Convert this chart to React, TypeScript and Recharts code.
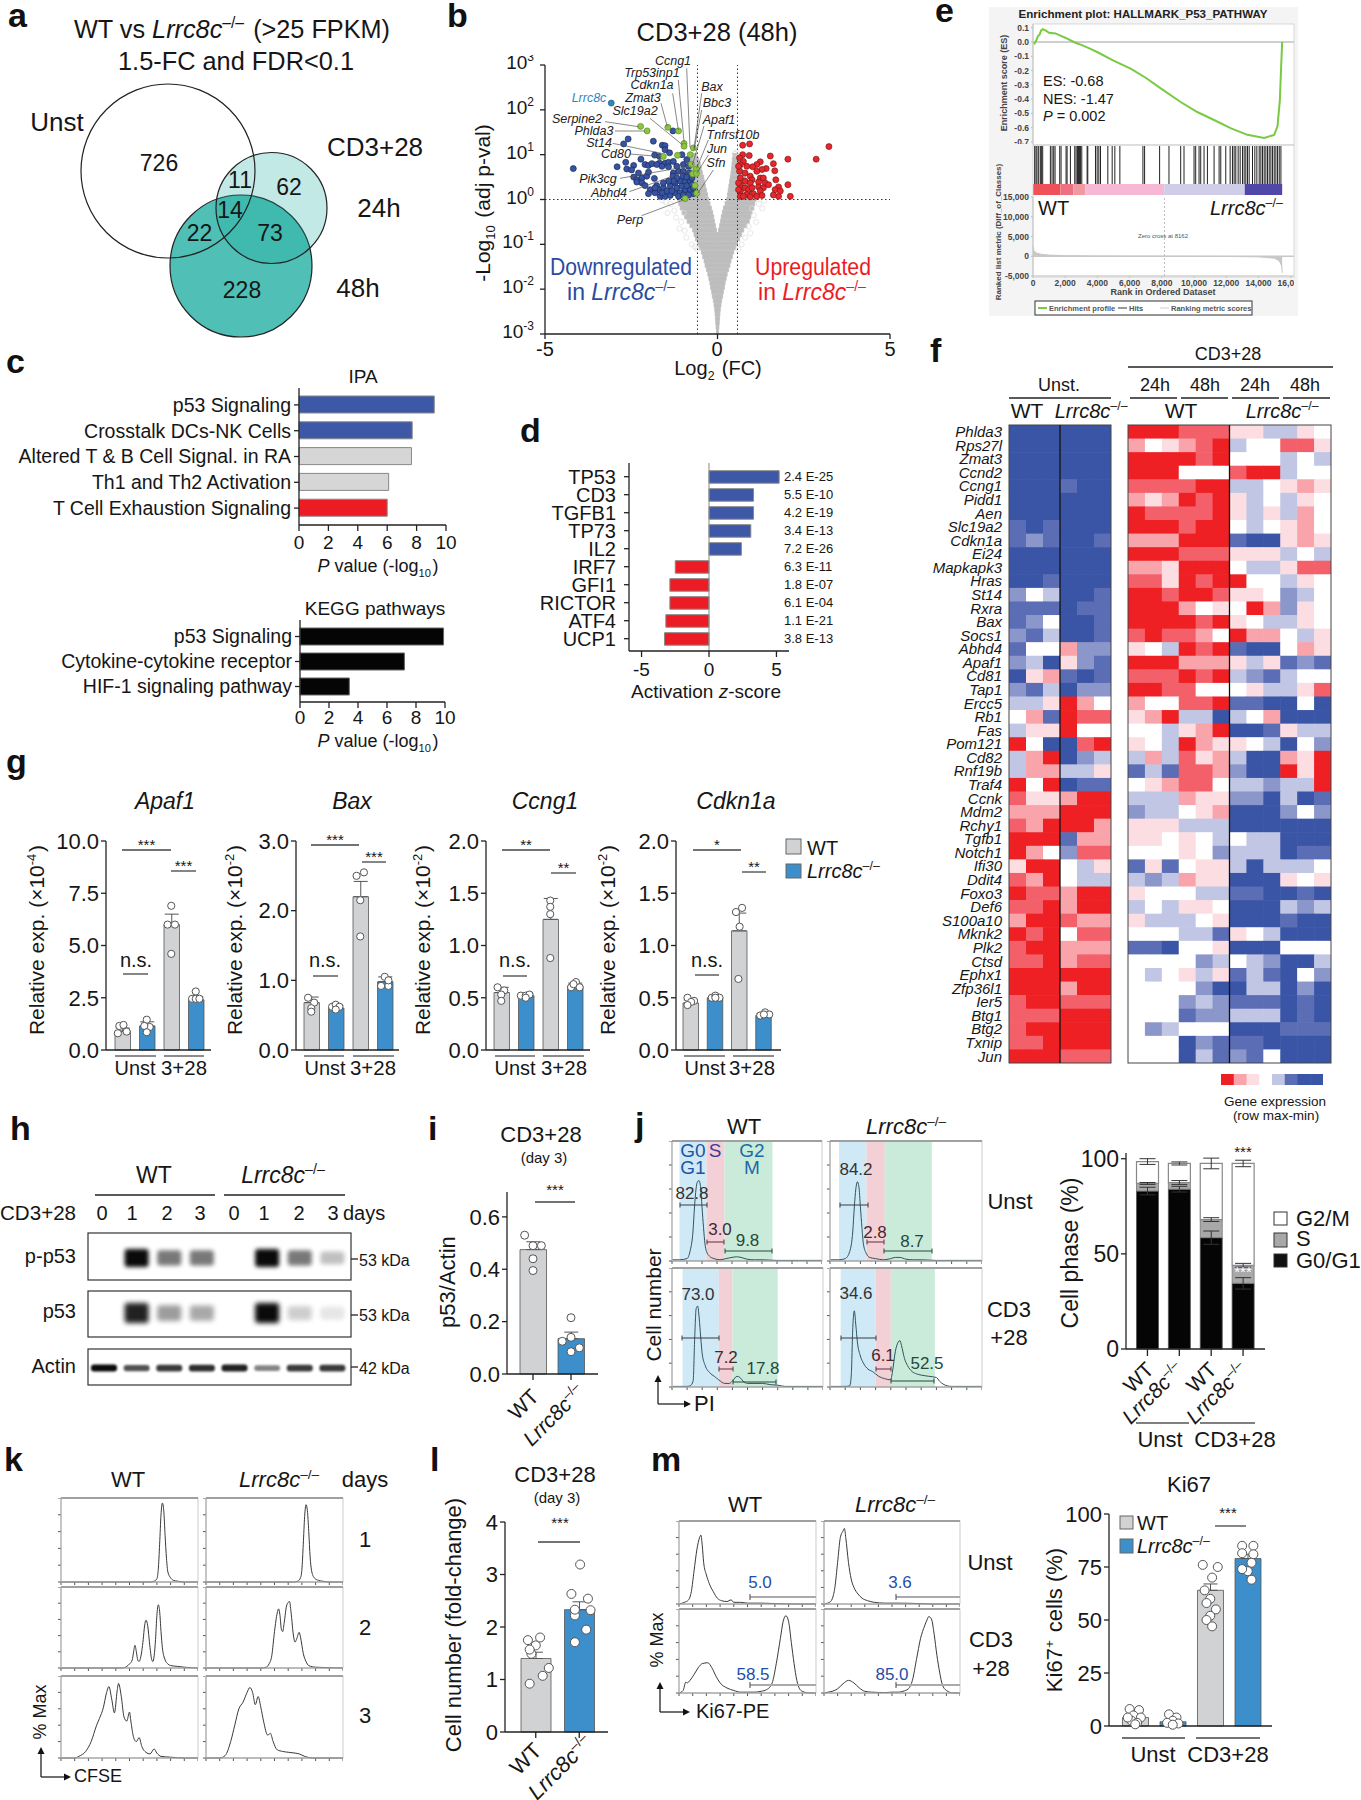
import React from 'react';
import {
  Area, AreaChart, Bar, BarChart, Cell, ComposedChart, ErrorBar, Line, LineChart,
  ReferenceArea, ReferenceLine, Scatter, ScatterChart, XAxis, YAxis
} from 'recharts';

const FONT = '"Liberation Sans", Arial, sans-serif';
const WT_GRAY = '#D1D2D4';
const KO_BLUE = '#3C8FCB';
const INK = '#161616';

// --- a: venn
const vennCx = [168, 241, 271.5];
const vennCy = [171, 266, 208];
const vennR = [87, 71, 55.5];
const vennFill = ['none', '#50BFB5', 'rgba(20,170,160,0.26)'];

// --- b: volcano (log2 FC, log10 adj p)
const volcanoBlue: number[][] = [[-4.18,.69],[-2.91,.73],[-2.66,.83],[-2.63,.68],[-2.43,.76],[-2.49,.66],[-2.59,1.35],[-2.72,1.24],[-1.86,1.3],[-1.29,1.53],[-1.6,1.21],[-1.52,1.2],[-1.52,1.11],[-1.39,1.04],[-1.82,.99],[-1.68,.96],[-2.22,.9],[-2.1,.78],[-2,.76],[-1.9,.8],[-1.68,.81],[-1.52,.81],[-1.42,.83],[-1.28,.85],[-1.18,.74],[-1.03,1],[-.89,.89],[-.99,.78],[-.84,.74],[-2.29,.59],[-2.43,.5],[-2.34,.44],[-2.19,.48],[-2.05,.52],[-2,.61],[-1.83,.47],[-1.28,.59],[-1.13,.63],[-.99,.63],[-.81,.59],[-2.34,.39],[-2.19,.37],[-2.1,.31],[-1.76,.31],[-1.71,.22],[-1.57,.26],[-1.37,.3],[-1.23,.37],[-1.08,.41],[-.94,.41],[-.79,.41],[-1.95,.22],[-2,.13],[-1.81,.15],[-1.66,.07],[-1.52,.07],[-1.37,.09],[-1.23,.15],[-1.08,.15],[-.94,.22],[-.79,.22],[-.7,.13],[-1.18,.26],[-1.03,.3],[-.89,.31],[-.74,.33],[-1.47,.19],[-1.32,.19],[-1.81,.26],[-1.61,.15],[-1.13,.07],[-.99,.1],[-.84,.1],[-.7,.26],[-1.76,.78],[-1.61,.74],[-1.42,.73],[-1.29,.52],[-1.18,.48],[-1,.52],[-.89,.5],[-.74,.48],[-1.28,.41],[-1.42,.41],[-1.57,.37]];
const volcanoRed: number[][] = [[3.23,1.18],[2.86,.9],[2.04,.9],[2.04,.33],[2.11,.07],[1.53,.97],[1.62,.8],[1.66,.64],[1.41,.69],[1.69,.44],[1.77,.28],[1.67,.22],[1.82,.19],[1.77,.07],[1.62,.1],[.73,1.21],[.93,1.24],[.73,1],[.92,.98],[.64,.93],[.75,.85],[1.24,.84],[1.14,.78],[1.02,.73],[.85,.74],[.66,.78],[1.29,.67],[1.14,.63],[.64,.63],[.8,.59],[.95,.52],[1.24,.48],[1.33,.48],[1,.44],[.66,.48],[.8,.41],[.95,.37],[1.19,.39],[1.38,.37],[1.48,.33],[.66,.33],[.8,.26],[1.19,.28],[1.33,.26],[.9,.22],[.66,.19],[1.24,.19],[.85,.11],[1.04,.13],[1.14,.07],[.66,.07],[1.29,.09],[.95,.06],[.75,.07],[1,.26],[.61,.74],[.61,.37],[.61,.22]];
const volcanoGreen: number[][] = [[-2.23,1.63],[-2.04,1.53],[-1.44,1.61],[-1.13,1.53],[-.97,1.25],[-.97,1.19],[-.7,1.15],[-1.57,.96],[-1.16,.985],[-.79,1],[-.76,.785],[-.61,.68],[-.72,.57],[-.61,.58],[-.65,.31],[-.6,.14],[-.94,.02]];
const volcanoLrrc8c: number[][] = [[-3.08,2.15]];
const volcanoOpen: number[][] = [[-1.5,-.05],[-1.35,-.1],[-1.45,-.3],[-1.25,-.25],[-1.2,-.4],[-1.05,-.5],[-1.1,-.65],[-.95,-.7],[-.9,-.85],[-.75,-1],[-.65,-1.05],[-.6,-1.1],[1.2,-.1],[1.3,-.2],[1.05,-.35],[1.12,-.5],[.9,-.6],[.95,-.75],[.8,-.85],[.7,-1],[.6,-1.1],[1.35,-.03],[-1.6,-.02],[1,-.2],[-.98,-.3],[1.1,.1],[1,.3],[.55,1.05],[.5,1.02]];
const grayBins = [1,.9,.8,.7,.6,.5,.4,.3,.2,.1,0,-.1,-.2,-.3,-.4,-.5,-.6,-.7,-.8,-.9,-1,-1.1,-1.2,-1.3,-1.4,-1.5,-1.6,-1.7,-1.8,-1.9,-2,-2.1,-2.2,-2.3,-2.4,-2.5,-2.6,-2.7,-2.8,-2.9,-3];
const grayLeftOuter = [-.7,-.8,-.85,-.9,-.95,-1,-1,-1.02,-1.05,-1.1,-1.15,-1.12,-1.08,-1.02,-.95,-.88,-.8,-.72,-.68,-.64,-.58,-.53,-.47,-.43,-.39,-.36,-.32,-.28,-.25,-.22,-.2,-.17,-.15,-.12,-.1,-.08,-.07,-.06,-.05,-.04,-.03];
const grayLeftInner = [-.6,-.55,-.5,-.47,-.44,-.4,-.38,-.35,-.32,-.29,-.26,-.22,-.18,-.14,-.11,-.09,-.06,-.03,0,0,0,0,0,0,0,0,0,0,0,0,0,0,0,0,0,0,0,0,0,0,0];
const grayRightInner = [.45,.43,.42,.41,.39,.37,.35,.33,.31,.29,.27,.22,.17,.14,.11,.09,.06,.03,0,0,0,0,0,0,0,0,0,0,0,0,0,0,0,0,0,0,0,0,0,0,0];
const grayRightOuter = [.55,.62,.68,.72,.77,.82,.86,.9,.98,1.05,1.12,1.08,1.05,1,.96,.92,.85,.76,.7,.64,.58,.53,.47,.43,.39,.36,.32,.28,.25,.22,.2,.17,.15,.12,.1,.08,.07,.06,.05,.04,.03];
const volcanoLeaders = [[470,55,480,292],[445,90,462,275],[428,130,445,240],[393,160,412,230],[360,205,458,285],[225,215,325,230],[255,243,345,243],[248,280,395,310],[300,312,395,320],[270,385,470,350],[298,425,480,360],[335,497,460,450],[515,130,492,295],[515,180,492,300],[522,228,487,345],[535,270,500,355],[535,315,500,370],[550,360,503,430]];

// --- c, d
const ipaNames = ['p53 Signaling', 'Crosstalk DCs-NK Cells', 'Altered T & B Cell Signal. in RA', 'Th1 and Th2 Activation', 'T Cell Exhaustion Signaling'];
const ipaValues = [9.2, 7.7, 7.65, 6.1, 6.0];
const ipaColors = ['#3D58A7', '#3D58A7', '#D6D6D6', '#D6D6D6', '#ED1C24'];
const keggNames = ['p53 Signaling', 'Cytokine-cytokine receptor', 'HIF-1 signaling pathway'];
const keggValues = [9.9, 7.2, 3.4];
const zNames = ['TP53', 'CD3', 'TGFB1', 'TP73', 'IL2', 'IRF7', 'GFI1', 'RICTOR', 'ATF4', 'UCP1'];
const zValues = [5.2, 3.3, 3.3, 3.1, 2.4, -2.5, -2.9, -2.9, -3.2, -3.3];
const zPvals = ['2.4 E-25', '5.5 E-10', '4.2 E-19', '3.4 E-13', '7.2 E-26', '6.3 E-11', '1.8 E-07', '6.1 E-04', '1.1 E-21', '3.8 E-13'];

// --- e: GSEA
const esRank = [0,100,200,300,400,500,600,800,1000,1400,1700,2000,2630,3000,3500,3980,5000,6060,7000,8000,9170,10200,11245,12300,13320,14356,14980,15185,15330,15413,15475];
const esScore = [0,-.01,.01,.04,.05,.08,.09,.08,.065,.06,.045,.03,-.005,-.02,-.045,-.07,-.13,-.186,-.25,-.33,-.42,-.49,-.546,-.605,-.65,-.672,-.65,-.59,-.41,-.17,0];
const hitRanks = [104,187,249,353,456,519,602,1079,1183,1286,1370,1660,1743,2054,2117,2324,2594,2677,2760,2822,2884,2947,3030,3362,3403,3880,3984,4088,4192,4648,4918,5084,5395,6827,6931,7864,8445,9172,9379,10002,10105,10313,10417,10624,10832,11247,11558,11662,11973,12243,12388,12492,12595,12741,12865,13010,13114,13218,13322,13426,13633,13778,13903,14048,14152,14255,14359,14463,14567,14670,14774,14878,14982,15085,15189,15293,15397];
const stripWidths = [1700, 800, 750, 4900, 5000, 2325];
const stripColors = ['#EE5158', '#EF7080', '#EE9AA0', '#F6B8D4', '#CFCDE8', '#5048A8'];
const metricRank = [0,50,200,500,1000,2000,4000,8162,12000,14000,15000,15300,15450,15475];
const metricValue = [2500,1500,800,500,300,150,50,0,-50,-150,-500,-1200,-2500,-4200];

// --- f: heatmap, levels 0 (blue) to 8 (red)
const heatPalette = ['#3A55A5', '#5A6DB5', '#8B96CB', '#C0C6E3', '#FFFFFF', '#FBDDE2', '#F9A4AB', '#F3606A', '#EE2024'];
const heatGenes = ['Phlda3','Rps27l','Zmat3','Ccnd2','Ccng1','Pidd1','Aen','Slc19a2','Cdkn1a','Ei24','Mapkapk3','Hras','St14','Rxra','Bax','Socs1','Abhd4','Apaf1','Cd81','Tap1','Ercc5','Rb1','Fas','Pom121','Cd82','Rnf19b','Traf4','Ccnk','Mdm2','Rchy1','Tgfb1','Notch1','Ifi30','Ddit4','Foxo3','Def6','S100a10','Mknk2','Plk2','Ctsd','Ephx1','Zfp36l1','Ier5','Btg1','Btg2','Txnip','Jun'];
const heatUnst = ['000000','000000','000000','000000','000100','000000','000000','101000','121001','000000','000000','001000','243001','111011','124001','213001','144622','230521','056101','213022','335864','461877','355844','840078','368023','366335','848011','755688','666888','768886','888166','864277','588435','768433','877688','778688','688766','878477','788666','778677','888888','888688','788777','777888','788888','778888','888777'];
const heatStim = ['888777553354','645678344775','888878444343','888444788344','777788334565','656878534354','877778535364','888788434564','666888100565','888777555343','665888433577','775878844354','887887554234','888645486254','888878543354','787764866435','543878100465','888666535121','777878321344','887744453357','644778110040','568330346000','443568001533','543865543042','363756300658','131776200858','456774332338','333655220301','233456000242','555333000000','554543433000','444542333011','151455303334','323655000545','544433110010','343554000323','533345000100','444331543000','110445000444','444423432003','434535131042','444420033020','444232111010','444122333010','423444000111','444021110000','444031214000'];
const heatLegend = [8, 6, 5, 4, 3, 1, 0, 0];

// --- g: qPCR
const qpcrCats = ['WT Unst', 'KO Unst', 'WT stim', 'KO stim'];
const qpcrColors = [WT_GRAY, KO_BLUE, WT_GRAY, KO_BLUE];
const apaf1Means = [.9, 1.15, 6, 2.4];
const apaf1Errs = [.15, .2, .5, .15];
const apaf1Dots = [[.38,1.15],[.55,1.2],[.32,.8],[.68,.88],[1.5,1.45],[1.62,1.1],[1.4,1.15],[1.5,.85],[2.5,6.9],[2.35,6],[2.65,6],[2.5,4.6],[3.5,2.8],[3.35,2.45],[3.5,2.45],[3.65,2.45]];
const baxMeans = [.68, .6, 2.2, .98];
const baxErrs = [.08, .04, .22, .07];
const baxDots = [[.37,.75],[.62,.68],[.5,.6],[.5,.55],[1.35,.62],[1.5,.65],[1.65,.62],[1.5,.58],[2.35,2.5],[2.65,2.55],[2.5,2.15],[2.5,1.63],[3.35,.92],[3.65,.92],[3.5,1.05],[3.65,1]];
const ccng1Means = [.55, .52, 1.25, .61];
const ccng1Errs = [.05, .02, .2, .03];
const ccng1Dots = [[.35,.6],[.62,.57],[.5,.53],[.5,.47],[1.3,.52],[1.5,.52],[1.65,.53],[1.5,.5],[2.5,1.43],[2.5,1.37],[2.5,1.3],[2.5,.88],[3.35,.6],[3.55,.65],[3.7,.6],[3.45,.63]];
const cdkn1aMeans = [.45, .5, 1.14, .33];
const cdkn1aErrs = [.03, .01, .17, .02];
const cdkn1aDots = [[.35,.5],[.62,.47],[.5,.46],[.35,.43],[1.35,.5],[1.5,.52],[1.67,.5],[1.5,.5],[2.35,1.32],[2.6,1.36],[2.5,1.18],[2.45,.68],[3.35,.33],[3.55,.36],[3.72,.34],[3.5,.34]];

// --- h: blot band intensities per lane
const bandsPhospho = [0, 1, .55, .55, 0, 1.2, .55, .25];
const bandsP53 = [0, .9, .4, .35, 0, 1, .2, .1];
const bandsActin = [1, .7, .8, .85, .9, .5, .8, .8];

// --- i
const p53Means = [.475, .135];
const p53Errs = [.03, .025];
const p53Dots = [[.28,.53],[.5,.49],[.72,.49],[.5,.44],[.5,.395],[1.5,.215],[1.5,.14],[1.27,.125],[1.72,.1],[1.5,.085]];

// --- j: cell cycle
const phaseCats = ['WT Unst', 'KO Unst', 'WT stim', 'KO stim'];
const phaseG0 = [83, 84, 58.5, 34.5];
const phaseS = [4, 3.5, 9.5, 9.5];
const phaseG2 = [11.5, 10, 29.5, 53.5];
const phaseG0Err = [2, 1.5, 3.5, 3];
const phaseSErr = [.5, 1, 1, 1];
const phaseG2Err = [1.5, .8, 2.8, 1.7];
const cycleWtUnst = [[0,1],[5,1],[10,2],[12,8],[14,25],[15,45],[16,60],[17,66],[18,67],[19,62],[20,45],[21,28],[22,14],[23,8],[25,4],[28,2],[32,1],[36,2],[40,3],[43,3.5],[46,3],[50,1.5],[55,1],[60,1],[70,.5],[85,.5],[100,.5]];
const cycleKoUnst = [[0,1],[6,1],[10,2],[13,8],[15,25],[16,45],[17,60],[18,66],[19,62],[20,45],[21,28],[22,14],[24,6],[26,3],[30,2],[35,1],[40,2],[43,3],[46,3],[50,1.5],[55,1],[60,1],[70,.5],[85,.5],[100,.5]];
const cycleWtStim = [[0,.5],[10,.5],[12,1],[14,5],[15,40],[16,66],[17,68],[18,58],[19,42],[20,28],[22,18],[25,12],[28,9],[31,6],[35,3],[38,3],[40,5],[43,9],[45,8],[47,5],[50,3],[55,3],[60,3],[65,2],[70,1.5],[75,.5],[80,.5],[100,.5]];
const cycleKoStim = [[0,.5],[10,.5],[13,1],[14,10],[15,50],[16,64],[17,52],[18,38],[20,26],[22,20],[25,15],[28,13],[32,9],[36,7],[40,6],[41,12],[43,30],[45,38],[46,39],[47,35],[49,24],[51,18],[54,13],[57,11],[60,10],[65,9],[70,8],[72,5],[75,2],[80,.5],[100,.5]];
const gatesWtUnst = [[5,23],[23,35],[35,67]];
const gatesKoUnst = [[6,24],[24,36],[36,67]];
const gatesWtStim = [[7,31],[31,40],[40,70]];
const gatesKoStim = [[7,30],[30,40],[40,69]];
const gateColors = ['#CFE9F6', '#F3D0D6', '#CBEBDA'];
const histTicks = [0, 10, 20, 30, 40, 50, 60, 70, 80, 90, 100];

// --- k: CFSE
const cfseWt1 = [[0,0],[65,0],[68,1],[70,4],[71,15],[72,45],[73,80],[74,94],[75,85],[76,55],[77,28],[78,12],[80,5],[82,2],[85,1],[90,0],[100,0]];
const cfseKo1 = [[0,0],[64,0],[67,1],[69,5],[70,15],[71,45],[72,78],[73,92],[74,85],[75,60],[76,30],[77,14],[79,5],[82,2],[85,1],[90,0],[100,0]];
const cfseWt2 = [[0,0],[45,0],[48,2],[50,5],[52,10],[53,20],[54,28],[55,20],[56,10],[57,8],[58,12],[60,35],[61,52],[62,59],[63,55],[65,25],[66,12],[67,8],[68,15],[69,35],[70,65],[71,78],[72,70],[73,45],[74,25],[76,10],[78,5],[80,3],[85,2],[90,1],[100,0]];
const cfseKo2 = [[0,0],[40,0],[44,1],[46,5],[48,15],[50,45],[52,68],[53,73],[54,65],[55,48],[56,45],[57,55],[59,78],[61,82],[62,70],[64,38],[65,32],[66,35],[68,44],[69,38],[71,18],[73,8],[75,3],[80,1],[100,0]];
const cfseWt3 = [[0,0],[10,0],[13,2],[18,8],[22,20],[26,40],[28,48],[31,62],[33,78],[35,87],[37,72],[39,55],[41,82],[42,91],[44,75],[46,50],[48,45],[50,56],[51,45],[53,25],[55,20],[57,25],[59,14],[62,7],[65,5],[68,11],[70,6],[73,2],[80,1],[90,0],[100,0]];
const cfseKo3 = [[0,0],[10,0],[14,3],[18,20],[21,40],[24,60],[27,68],[30,80],[32,86],[34,80],[36,65],[38,75],[40,62],[42,45],[45,28],[47,30],[49,20],[52,10],[56,8],[60,7],[65,6],[68,5],[72,2],[78,0],[100,0]];

// --- l
const foldMeans = [1.4, 2.33];
const foldErrs = [.12, .15];
const foldDots = [[.36,.92],[.66,1.07],[.8,1.22],[.4,1.49],[.5,1.65],[.32,1.75],[.6,1.8],[.36,1.57],[1.4,1.71],[1.66,1.95],[1.4,2.22],[1.76,2.32],[1.32,2.63],[1.7,2.54],[1.52,3.19],[1.4,2.33]];

// --- m
const ki67WtUnst = [[0,0],[4,2],[7,5],[9,15],[11,40],[13,65],[15,80],[16,83],[17,70],[18,50],[20,35],[22,25],[25,15],[28,7],[31,4],[35,3],[38,5],[40,2],[45,2],[50,1],[60,1],[70,.5],[85,0],[100,0]];
const ki67KoUnst = [[0,0],[4,2],[6,6],[8,20],[10,50],[12,80],[14,88],[15,91],[16,80],[18,50],[20,30],[22,20],[25,12],[28,7],[32,4],[37,2],[45,1],[55,1],[70,.5],[80,0],[100,0]];
const ki67WtStim = [[0,0],[3,3],[5,13],[6,12],[8,15],[11,22],[14,30],[17,35],[21,36],[24,30],[27,20],[30,12],[35,6],[40,3],[45,1],[50,1],[55,1],[60,2],[64,4],[68,12],[71,35],[74,65],[76,85],[78,92],[80,85],[82,60],[84,35],[86,15],[88,5],[90,2],[95,0],[100,0]];
const ki67KoStim = [[0,0],[3,1],[6,2],[10,5],[14,11],[18,15],[22,12],[26,6],[30,2],[35,1],[45,.5],[50,1],[55,1],[58,2],[62,5],[65,15],[68,40],[71,65],[74,80],[76,88],[77,91],[79,88],[81,70],[83,45],[85,25],[87,10],[90,3],[95,0],[100,0]];
const kiMeans = [4, 2, 64, 79];
const kiErrs = [1, .5, 3, 2];
const kiDots = [[.35,8],[.6,7.5],[.45,5],[.65,4],[.4,2.5],[.55,1.5],[.3,4],[.5,.8],[1.4,5.5],[1.6,4],[1.5,2.5],[1.35,1.5],[1.65,1.2],[1.5,.6],[2.3,76],[2.7,75],[2.55,70],[2.35,64],[2.5,60],[2.4,58],[2.65,55],[2.5,52],[2.4,50],[2.55,47],[3.35,85],[3.65,85],[3.35,81.5],[3.65,81],[3.6,77],[3.5,73],[3.6,69],[3.35,74]];

const axisLine = { stroke: '#222', strokeWidth: 1.3 };
const Box = ({ x, y, children }: any) => (
  <div style={{ position: 'absolute', left: x, top: y }}>{children}</div>
);
const blank = () => '';
const toRows = (a: number[][]) => a.map(([x, y]) => ({ x, y }));

const T = ({ x, y, s = 18, a = 'middle', c = INK, i, b, rot, w, children }: any) => (
  <text x={x} y={y} fontSize={s} textAnchor={a} fill={c} fontStyle={i ? 'italic' : undefined}
    fontWeight={b ? 'bold' : undefined} transform={rot ? `rotate(${rot} ${x} ${y})` : undefined}
    textLength={w} lengthAdjust={w ? 'spacingAndGlyphs' : undefined}>{children}</text>
);
const Sup = ({ t, s }: any) => (
  <><tspan dy={-0.38 * s} fontSize={s * 0.62}>{t}</tspan><tspan dy={0.38 * s}>{'\u200a'}</tspan></>
);
const Sub = ({ t, s }: any) => (
  <><tspan dy={0.25 * s} fontSize={s * 0.62}>{t}</tspan><tspan dy={-0.25 * s}>{'\u200a'}</tspan></>
);
const KO = ({ s }: any) => (
  <><tspan fontStyle="italic">Lrrc8c</tspan><Sup t="–/–" s={s} /></>
);
const L = ({ x1, y1, x2, y2, c = '#222', w = 1.3, d }: any) => (
  <line x1={x1} y1={y1} x2={x2} y2={y2} stroke={c} strokeWidth={w} strokeDasharray={d} />
);
const R = ({ x, y, w, h, f = 'none', c = 'none', sw = 1 }: any) => (
  <rect x={x} y={y} width={w} height={h} fill={f} stroke={c} strokeWidth={sw} />
);

const Venn = () => (
  <Box x={0} y={0}>
    <ScatterChart width={340} height={345} margin={{ top: 0, right: 0, left: 0, bottom: 0 }}>
      <XAxis type="number" dataKey="x" domain={[0, 340]} hide />
      <YAxis type="number" dataKey="y" domain={[0, 345]} reversed hide />
      <Scatter isAnimationActive={false}
        data={[1, 2, 0].map((k) => ({ x: vennCx[k], y: vennCy[k], r: vennR[k], f: vennFill[k] }))}
        shape={(p: any) => <circle cx={p.cx} cy={p.cy} r={p.r} fill={p.f} stroke="#222" strokeWidth={1.2} />} />
    </ScatterChart>
  </Box>
);

const VDot = ({ data, f, c = '#1d2a55', r = 3 }: any) => (
  <Scatter isAnimationActive={false} data={toRows(data)}
    shape={(p: any) => <circle cx={p.cx} cy={p.cy} r={r} fill={f} stroke={c} strokeWidth={0.7} />} />
);

const Volcano = () => {
  const rows = grayBins.map((b, k) => ({ b: String(b), l: [grayLeftOuter[k], grayLeftInner[k]], r: [grayRightInner[k], grayRightOuter[k]] }));
  const arm = (key: string) => (
    <Box x={545} y={153}>
      <BarChart layout="vertical" width={345} height={181} data={rows} barCategoryGap={0} margin={{ top: 0, right: 0, left: 0, bottom: 0 }}>
        <XAxis type="number" domain={[-5, 5]} hide />
        <YAxis type="category" dataKey="b" hide />
        <Bar dataKey={key} fill="#BDBDBD" stroke="#BDBDBD" strokeWidth={0.8} isAnimationActive={false} />
      </BarChart>
    </Box>
  );
  return (
    <>
      {arm('l')}
      {arm('r')}
      <Box x={495} y={55}>
        <ScatterChart width={410} height={292} margin={{ top: 10, right: 15, left: 0, bottom: 0 }}>
          <XAxis type="number" dataKey="x" domain={[-5, 5]} ticks={[-5, 0, 5]} interval={0} height={13} axisLine={axisLine} tickLine={axisLine} tickSize={5}
            tickFormatter={blank} />
          <YAxis type="number" dataKey="y" domain={[-3, 3]} ticks={[-3, -2, -1, 0, 1, 2, 3]} interval={0} width={50} axisLine={axisLine} tickLine={axisLine} tickSize={5}
            tick={(p: any) => (
              <text x={p.x - 4} y={p.y + 4} textAnchor="end" fontSize={19} fill={INK}>10<tspan dy={-8} fontSize={12}>{p.payload.value}</tspan></text>
            )} />
          <ReferenceLine x={-0.58} stroke="#333" strokeDasharray="1.5 2.5" />
          <ReferenceLine x={0.58} stroke="#333" strokeDasharray="1.5 2.5" />
          <ReferenceLine y={0} stroke="#333" strokeDasharray="1.5 2.5" />
          {VDot({ data: volcanoOpen, f: 'none', c: '#DDD', r: 2.6 })}
          {VDot({ data: volcanoBlue, f: '#3654A5' })}
          {VDot({ data: volcanoRed, f: '#E8262B', c: '#7a1a1a' })}
          {VDot({ data: volcanoGreen, f: '#8CC63F', c: '#5b8a2a' })}
          {VDot({ data: volcanoLrrc8c, f: '#2E86C1', c: '#1d5f8c' })}
        </ScatterChart>
      </Box>
    </>
  );
};

const HBars = ({ x, y, w, h, names, values, colors, domain, ticks, pad, barSize, left, stroke, fs = 19.5, margin = 3 }: any) => (
  <Box x={x - left} y={y}>
    <BarChart layout="vertical" width={w + left + 14} height={h + 10} data={names.map((n: string, k: number) => ({ n, v: values[k] }))}
      margin={{ top: 0, right: 14, left: 0, bottom: 0 }}>
      <XAxis type="number" domain={domain} ticks={ticks} interval={0} height={10} axisLine={axisLine} tickLine={axisLine} tickSize={6} tickFormatter={blank} />
      <YAxis type="category" dataKey="n" width={left} interval={0} padding={pad} axisLine={axisLine} tickLine={axisLine} tickSize={5}
        tick={{ fill: INK, fontSize: fs }} tickMargin={margin} />
      <Bar dataKey="v" barSize={barSize} stroke={stroke} strokeWidth={1} isAnimationActive={false}>
        {names.map((_: string, k: number) => <Cell key={k} fill={colors[k]} />)}
      </Bar>
      {domain[0] < 0 && <ReferenceLine x={0} stroke="#888" strokeWidth={1} />}
    </BarChart>
  </Box>
);

const Gsea = () => {
  const left = 40;
  const tick = { fontSize: 8.5, fill: '#444', fontWeight: 'bold' };
  const esRows = esRank.map((r, k) => ({ r, v: esScore[k] }));
  const metricRows = metricRank.map((r, k) => ({ r, v: metricValue[k] }));
  const strip: any = { n: 'strip' };
  stripWidths.forEach((v, k) => { strip['s' + k] = v; });
  return (
    <>
      <Box x={1033 - left} y={18}>
        <LineChart width={261 + left} height={126} data={esRows} margin={{ top: 6, right: 0, left: 0, bottom: 0 }}>
          <XAxis type="number" dataKey="r" domain={[0, 16210]} hide />
          <YAxis domain={[-0.714, 0.126]} ticks={[.1, 0, -.1, -.2, -.3, -.4, -.5, -.6, -.7]} interval={0} width={left} tick={tick} tickSize={2} tickMargin={2}
            axisLine={{ stroke: '#bbb' }} tickLine={{ stroke: '#bbb' }} tickFormatter={(v: number) => v.toFixed(1)} />
          <ReferenceLine y={0} stroke="#CFCFCF" strokeWidth={2} />
          <Line dataKey="v" stroke="#7AC943" strokeWidth={2} dot={false} isAnimationActive={false} />
        </LineChart>
      </Box>
      <Box x={1033} y={146}>
        <ScatterChart width={261} height={38} margin={{ top: 0, right: 0, left: 0, bottom: 0 }}>
          <XAxis type="number" dataKey="x" domain={[0, 16210]} hide />
          <YAxis type="number" dataKey="y" domain={[0, 1]} hide />
          <Scatter isAnimationActive={false} data={hitRanks.map((x) => ({ x, y: 0.5 }))}
            shape={(p: any) => <line x1={p.cx} x2={p.cx} y1={0} y2={38} stroke="#222" strokeWidth={1} />} />
        </ScatterChart>
      </Box>
      <Box x={1033} y={184}>
        <BarChart layout="vertical" width={261} height={11} data={[strip]} barCategoryGap={0} margin={{ top: 0, right: 0, left: 0, bottom: 0 }}>
          <XAxis type="number" domain={[0, 16210]} hide />
          <YAxis type="category" dataKey="n" hide />
          {stripWidths.map((_, k) => <Bar key={k} dataKey={'s' + k} stackId="a" fill={stripColors[k]} isAnimationActive={false} />)}
        </BarChart>
      </Box>
      <Box x={1033 - left} y={191}>
        <AreaChart width={261 + left} height={98} data={metricRows} margin={{ top: 6, right: 0, left: 0, bottom: 0 }}>
          <XAxis type="number" dataKey="r" domain={[0, 16210]} ticks={[0, 2000, 4000, 6000, 8000, 10000, 12000, 14000, 16000]} interval={0} height={13}
            tick={tick} tickSize={2} axisLine={{ stroke: '#bbb' }} tickLine={{ stroke: '#bbb' }} tickFormatter={(v: number) => v.toLocaleString('en-US')} />
          <YAxis domain={[-5000, 15000]} ticks={[-5000, 0, 5000, 10000, 15000]} interval={0} width={left} tick={tick} tickSize={2} tickMargin={2}
            axisLine={{ stroke: '#bbb' }} tickLine={{ stroke: '#bbb' }} tickFormatter={(v: number) => v.toLocaleString('en-US')} />
          <ReferenceLine x={8162} stroke="#bbb" strokeDasharray="2 2" />
          <ReferenceLine y={0} stroke="#C8C8C8" strokeWidth={1.5} />
          <Area dataKey="v" baseValue={0} stroke="#C8C8C8" fill="#C8C8C8" fillOpacity={1} dot={false} isAnimationActive={false} />
        </AreaChart>
      </Box>
    </>
  );
};

const Heat = ({ x, y, w, h, rows, cols, labels }: any) => {
  const cw = w / cols;
  const rh = h / rows.length;
  const cells: any[] = [];
  rows.forEach((row: any, r: number) => {
    Array.from(row).forEach((level: any, c: number) => cells.push({ x: c + 0.5, y: r + 0.5, l: Number(level) }));
  });
  const left = labels ? 90 : 0;
  return (
    <Box x={x - left} y={y}>
      <ScatterChart width={w + left} height={h} margin={{ top: 0, right: 0, left: 0, bottom: 0 }}>
        <XAxis type="number" dataKey="x" domain={[0, cols]} hide />
        <YAxis type="number" dataKey="y" domain={[0, rows.length]} reversed width={left} hide={!labels} axisLine={false} tickLine={false} interval={0}
          ticks={rows.map((_: any, k: number) => k + 0.5)} tickFormatter={(v: number) => (labels ? labels[Math.floor(v)] : '')}
          tick={{ fontSize: 15, fontStyle: 'italic', fill: INK }} tickMargin={1} />
        <Scatter isAnimationActive={false} data={cells}
          shape={(p: any) => <rect x={p.cx - cw / 2} y={p.cy - rh / 2} width={cw + 0.6} height={rh + 0.6} fill={heatPalette[p.l]} />} />
      </ScatterChart>
    </Box>
  );
};

const DotBars = ({ x, y, w, h, means, errs, colors, dots, domain, ticks, fmt, padL, padR, barW, dotR = 3.6, showTicks, fs = 22, cats }: any) => {
  const left = 60;
  const top = 14;
  const names = cats || means.map((_: number, k: number) => 'c' + k);
  const data = names.map((cat: string, k: number) => ({ cat, v: means[k], e: [0, errs[k]] }));
  return (
    <Box x={x - left} y={y - top}>
      <ComposedChart width={w + left} height={h + top + 12} data={data} margin={{ top, right: 0, left: 0, bottom: 0 }}>
        <XAxis xAxisId="c" dataKey="cat" height={12} padding={{ left: padL, right: padR }} axisLine={axisLine} tickLine={showTicks ? axisLine : false} tickSize={6} tickFormatter={blank} />
        <XAxis xAxisId="n" type="number" dataKey="x" domain={[0, means.length]} padding={{ left: padL, right: padR }} hide />
        <YAxis domain={domain} ticks={ticks} interval={0} width={left} axisLine={axisLine} tickLine={axisLine} tickSize={5} tickMargin={2}
          tick={{ fontSize: fs, fill: INK }} tickFormatter={fmt} />
        <Bar xAxisId="c" dataKey="v" barSize={barW} stroke="#555" strokeWidth={0.8} isAnimationActive={false}>
          {names.map((_: string, k: number) => <Cell key={k} fill={colors[k]} />)}
          <ErrorBar dataKey="e" direction="y" width={7} stroke="#555" strokeWidth={1} />
        </Bar>
        <Scatter xAxisId="n" dataKey="y" data={toRows(dots)} isAnimationActive={false}
          shape={(p: any) => <circle cx={p.cx} cy={p.cy} r={dotR} fill="#fff" stroke="#555" strokeWidth={1} />} />
      </ComposedChart>
    </Box>
  );
};

const Blot = ({ x, y, w, h, bands, pos, rx, ry, blur }: any) => (
  <Box x={x} y={y}>
    <ScatterChart width={w} height={h} margin={{ top: 0, right: 0, left: 0, bottom: 0 }}>
      <XAxis type="number" dataKey="x" domain={[-0.49, 7.57]} hide />
      <YAxis type="number" dataKey="y" domain={[0, 1]} hide />
      <Scatter isAnimationActive={false} data={bands.map((v: number, k: number) => ({ x: k, y: pos, v }))}
        shape={(p: any) => {
          if (p.v <= 0) return <g />;
          const bh = ry * Math.min(1, 0.6 + p.v * 0.45);
          return (
            <rect x={p.cx - rx} y={p.cy - bh} width={rx * 2} height={bh * 2} rx={3} fill="#0a0a0a"
              opacity={Math.min(1, p.v)} style={{ filter: `blur(${blur}px)` }} />
          );
        }} />
    </ScatterChart>
  </Box>
);

const Hist = ({ x, y, w, h, curve, gates, c = '#3a3a3a' }: any) => (
  <Box x={x - 4} y={y}>
    <LineChart width={w + 4} height={h + 5} data={curve.map(([a, b]: number[]) => ({ a, b }))} margin={{ top: 0, right: 0, left: 0, bottom: 0 }}>
      <XAxis type="number" dataKey="a" domain={[0, 100]} ticks={histTicks} interval={0} tickFormatter={blank} height={5} tickSize={3} axisLine={{ stroke: '#777' }} tickLine={{ stroke: '#555' }} />
      <YAxis domain={[0, 100]} ticks={[0, 20, 40, 60, 80, 100]} interval={0} width={4} tickSize={3} tickFormatter={blank} axisLine={{ stroke: '#999' }} tickLine={{ stroke: '#555' }} />
      {(gates || []).map((g: number[], k: number) => (
        <ReferenceArea key={k} x1={g[0]} x2={g[1]} y1={0} y2={100} fill={gateColors[k]} fillOpacity={1} stroke="none" />
      ))}
      <Line dataKey="b" type="monotone" stroke={c} strokeWidth={1} dot={false} isAnimationActive={false} />
    </LineChart>
  </Box>
);

const Phases = () => {
  const left = 60;
  const top = 14;
  const data = phaseCats.map((cat, k) => ({
    cat, g0: phaseG0[k], s: phaseS[k], g2: phaseG2[k], g0e: phaseG0Err[k], se: phaseSErr[k], g2e: phaseG2Err[k]
  }));
  return (
    <Box x={1126 - left} y={1153 - top}>
      <BarChart width={139 + left} height={196 + top + 12} data={data} margin={{ top, right: 0, left: 0, bottom: 0 }}>
        <XAxis dataKey="cat" height={12} padding={{ left: 5.5, right: 6 }} axisLine={axisLine} tickLine={axisLine} tickSize={7} tickFormatter={blank} />
        <YAxis domain={[0, 103]} ticks={[0, 50, 100]} interval={0} width={left} axisLine={axisLine} tickLine={axisLine} tickSize={5} tickMargin={2} tick={{ fontSize: 23, fill: INK }} />
        <Bar dataKey="g0" stackId="a" fill="#050505" stroke="#555" strokeWidth={0.8} barSize={22} isAnimationActive={false}>
          <ErrorBar dataKey="g0e" width={8} stroke="#333" strokeWidth={1} />
        </Bar>
        <Bar dataKey="s" stackId="a" fill="#A8A8A8" stroke="#777" strokeWidth={0.8} barSize={22} isAnimationActive={false}>
          <ErrorBar dataKey="se" width={8} stroke="#333" strokeWidth={1} />
        </Bar>
        <Bar dataKey="g2" stackId="a" fill="#fff" stroke="#888" strokeWidth={1.2} barSize={22} isAnimationActive={false}>
          <ErrorBar dataKey="g2e" width={8} stroke="#333" strokeWidth={1} />
        </Bar>
      </BarChart>
    </Box>
  );
};

const Frame = ({ x, y, w, h }: any) => (
  <>
    <R x={x} y={y} w={w} h={h} c="#BDBDBD" sw={0.8} />
    <L x1={x} y1={y} x2={x + w} y2={y} c="#A0A0A0" w={2} />
  </>
);

const Stars = ({ x, y, t = '***' }: any) => <T x={x} y={y} s={15}>{t}</T>;
const Qpcr = ({ title, tx, ylabX, sup, unstX, stimX, lines, ns, nsLine, stars }: any) => (
  <>
    <T x={tx} y={809} s={23} i>{title}</T>
    <T x={ylabX} y={940} s={21} rot={-90}>Relative exp. (×10<Sup t={sup} s={21} />)</T>
    <T x={unstX} y={1075} s={20} w={41}>Unst</T>
    <T x={stimX} y={1075} s={20} w={46}>3+28</T>
    <L x1={lines[0]} y1={1056} x2={lines[1]} y2={1056} c="#666" />
    <L x1={lines[2]} y1={1056} x2={lines[3]} y2={1056} c="#666" />
    <T x={ns} y={967} s={20}>n.s.</T>
    <L x1={nsLine[0]} y1={nsLine[2]} x2={nsLine[1]} y2={nsLine[2]} c="#444" />
    {stars.map((st: any, k: number) => (
      <React.Fragment key={k}>
        <L x1={st[0]} y1={st[2]} x2={st[1]} y2={st[2]} c="#444" />
        <Stars x={(st[0] + st[1]) / 2} y={st[2] - 0.5} t={st[3]} />
      </React.Fragment>
    ))}
  </>
);

const gateBar = (x1: number, x2: number, y: number, c = '#3a3a3a') => (
  <>
    <L x1={x1} y1={y} x2={x2} y2={y} c={c} w={1} />
    <L x1={x1} y1={y - 2.5} x2={x1} y2={y + 2.5} c={c} w={1} />
    <L x1={x2} y1={y - 2.5} x2={x2} y2={y + 2.5} c={c} w={1} />
  </>
);
const Arrow = ({ x0, y0, yTop, xEnd }: any) => (
  <>
    <L x1={x0} y1={yTop + 5} x2={x0} y2={y0} />
    <L x1={x0} y1={y0} x2={xEnd - 5} y2={y0} />
    <polygon points={`${x0 - 3.5},${yTop + 7} ${x0 + 3.5},${yTop + 7} ${x0},${yTop}`} fill="#111" />
    <polygon points={`${xEnd - 7},${y0 - 3.5} ${xEnd - 7},${y0 + 3.5} ${xEnd},${y0}`} fill="#111" />
  </>
);

const Overlay = () => (
  <svg width={1361} height={1800} style={{ position: 'absolute', left: 0, top: 0, pointerEvents: 'none' }} fontFamily={FONT}>
    {[['a', 8, 27], ['b', 447, 27], ['c', 6, 373], ['d', 520, 442], ['e', 935, 22], ['f', 930, 362], ['g', 6, 773], ['h', 10, 1140], ['i', 428, 1140], ['j', 635, 1136], ['k', 4, 1471], ['l', 430, 1471], ['m', 651, 1471]].map(([t, x, y]: any) => (
      <T key={t} x={x} y={y} s={34} a="start" b c="#111">{t}</T>
    ))}

    {/* a */}
    <T x={232} y={38} s={26} w={316}>WT vs <KO s={26} /> (&gt;25 FPKM)</T>
    <T x={236} y={70} s={26} w={236}>1.5-FC and FDR&lt;0.1</T>
    <T x={57} y={131} s={26}>Unst</T>
    <T x={375} y={156} s={26}>CD3+28</T>
    <T x={379} y={217} s={26}>24h</T>
    <T x={358} y={297} s={26}>48h</T>
    <T x={159} y={171} s={23}>726</T>
    <T x={240} y={188} s={23}>11</T>
    <T x={289} y={195} s={23}>62</T>
    <T x={230} y={218} s={23}>14</T>
    <T x={199.5} y={241} s={23}>22</T>
    <T x={270} y={241} s={23}>73</T>
    <T x={242} y={298} s={23}>228</T>

    {/* b */}
    <T x={717} y={41} s={25.5}>CD3+28 (48h)</T>
    <T x={490} y={203} s={21} rot={-90}>-Log<Sub t="10" s={21} /> (adj p-val)</T>
    <T x={545} y={356} s={20}>-5</T>
    <T x={717} y={356} s={20}>0</T>
    <T x={890} y={356} s={20}>5</T>
    <T x={718} y={375} s={20}>Log<Sub t="2" s={20} /> (FC)</T>
    <T x={621} y={275} s={23} c="#2B4BA0" w={142}>Downregulated</T>
    <T x={622} y={300} s={23} c="#2B4BA0">in <KO s={23} /></T>
    <T x={813} y={275} s={23} c="#ED1C24" w={116}>Upregulated</T>
    <T x={813} y={300} s={23} c="#ED1C24">in <KO s={23} /></T>
    {volcanoLeaders.map((l, k) => (
      <L key={k} x1={530 + l[0] / 3} y1={50 + l[1] / 3} x2={530 + l[2] / 3} y2={50 + l[3] / 3} c="#555" w={0.7} />
    ))}
    {[['Ccng1', 673, 65], ['Trp53inp1', 652, 77], ['Cdkn1a', 652, 89], ['Zmat3', 643, 102], ['Slc19a2', 635, 115], ['Serpine2', 577, 123], ['Phlda3', 594, 135], ['St14', 599, 147], ['Cd80', 616, 158], ['Pik3cg', 598, 183], ['Abhd4', 609, 197], ['Perp', 630, 224], ['Bax', 712, 91], ['Bbc3', 717, 107], ['Apaf1', 719, 124], ['Tnfrsf10b', 733, 139], ['Jun', 717, 153], ['Sfn', 716, 167]].map(([t, x, y]: any) => (
      <T key={t} x={x} y={y} s={12.5} i c="#222">{t}</T>
    ))}
    <T x={589} y={102} s={12.5} i c="#2E86C1">Lrrc8c</T>

    {/* c */}
    <T x={363} y={383} s={19}>IPA</T>
    {[0, 2, 4, 6, 8, 10].map((v) => <T key={v} x={299 + v * 14.7} y={549} s={19}>{v}</T>)}
    <T x={378} y={572} s={18}><tspan fontStyle="italic">P</tspan> value (-log<Sub t="10" s={18} />)</T>
    <T x={375} y={615} s={19}>KEGG pathways</T>
    {[0, 2, 4, 6, 8, 10].map((v) => <T key={v} x={300 + v * 14.5} y={724} s={19}>{v}</T>)}
    <T x={378} y={747} s={18}><tspan fontStyle="italic">P</tspan> value (-log<Sub t="10" s={18} />)</T>

    {/* d */}
    {zPvals.map((p, k) => <T key={p} x={784} y={481 + k * 18} s={13} a="start">{p}</T>)}
    {[-5, 0, 5].map((v) => <T key={v} x={709 + v * 13.5} y={676} s={19}>{v}</T>)}
    <T x={706} y={698} s={19}>Activation <tspan fontStyle="italic">z</tspan>-score</T>

    {/* e */}
    <T x={1143} y={18} s={11} b c="#222" w={249}>Enrichment plot: HALLMARK_P53_PATHWAY</T>
    <T x={1007} y={83} s={9} b c="#444" rot={-90}>Enrichment score (ES)</T>
    <T x={1001} y={232} s={8} b c="#444" rot={-90}>Ranked list metric (Diff_of_Classes)</T>
    <T x={1043} y={86} s={14.5} a="start">ES: -0.68</T>
    <T x={1043} y={104} s={14.5} a="start">NES: -1.47</T>
    <T x={1043} y={121} s={14.5} a="start"><tspan fontStyle="italic">P</tspan> = 0.002</T>
    <T x={1038} y={215} s={20} a="start">WT</T>
    <T x={1210} y={215} s={20} a="start"><KO s={20} /></T>
    <T x={1163} y={238} s={6} c="#555">Zero cross at 8162</T>
    <T x={1163} y={295} s={9} b c="#444">Rank in Ordered Dataset</T>
    <R x={1033} y={24} w={261} h={253} c="#cfcfcf" sw={0.8} />
    <L x1={1033} y1={145} x2={1294} y2={145} c="#bbb" w={1} />
    <R x={1035} y={301} w={217} h={14} f="#fff" c="#333" sw={1} />
    <L x1={1038} y1={308} x2={1047} y2={308} c="#7AC943" w={2} />
    <T x={1049} y={311} s={7.5} a="start" b c="#555">Enrichment profile</T>
    <L x1={1118} y1={308} x2={1127} y2={308} c="#333" w={1} />
    <T x={1129} y={311} s={7.5} a="start" b c="#555">Hits</T>
    <L x1={1160} y1={308} x2={1169} y2={308} c="#ccc" w={1} />
    <T x={1171} y={311} s={7.5} a="start" b c="#555">Ranking metric scores</T>

    {/* f */}
    <T x={1228} y={360} s={18}>CD3+28</T>
    <L x1={1128} y1={367} x2={1333} y2={367} />
    <T x={1059} y={391} s={18}>Unst.</T>
    <L x1={1009} y1={398} x2={1111} y2={398} />
    {[[1155, 1130, '24h'], [1205, 1181, '48h'], [1255, 1232, '24h'], [1305, 1283, '48h']].map(([cx, x1, t]: any) => (
      <React.Fragment key={cx}>
        <T x={cx} y={391} s={18}>{t}</T>
        <L x1={x1} y1={398} x2={x1 + 47} y2={398} />
      </React.Fragment>
    ))}
    <T x={1027} y={418} s={21}>WT</T>
    <T x={1092} y={418} s={20}><KO s={20} /></T>
    <T x={1181} y={418} s={21}>WT</T>
    <T x={1283} y={418} s={20}><KO s={20} /></T>
    <R x={1009} y={425} w={102} h={638} c="#444" sw={1} />
    <L x1={1060} y1={425} x2={1060} y2={1063} c="#111" w={1.3} />
    <R x={1128} y={425} w={203} h={638} c="#444" sw={1} />
    <L x1={1229.5} y1={425} x2={1229.5} y2={1063} c="#111" w={1.3} />
    <T x={1275} y={1106} s={13.5}>Gene expression</T>
    <T x={1276} y={1120} s={13.5}>(row max-min)</T>

    {/* g */}
    <Qpcr title="Apaf1" tx={165} ylabX={44} sup="-4" unstX={135} stimX={184} lines={[115, 156, 164, 204]} ns={136} nsLine={[123, 148, 974]} stars={[[122, 171, 850, '***'], [171, 196, 871, '***']]} />
    <Qpcr title="Bax" tx={352} ylabX={242} sup="-2" unstX={325} stimX={373} lines={[304, 344, 353, 394]} ns={325} nsLine={[313, 338, 976]} stars={[[311, 359, 845, '***'], [362, 386, 862, '***']]} />
    <Qpcr title="Ccng1" tx={545} ylabX={430} sup="-2" unstX={515} stimX={564} lines={[495, 535, 543, 584]} ns={515} nsLine={[503, 527, 976]} stars={[[502, 550, 850, '**'], [551, 576, 873, '**']]} />
    <Qpcr title="Cdkn1a" tx={736} ylabX={615} sup="-2" unstX={705} stimX={752} lines={[684, 725, 733, 774]} ns={707} nsLine={[695, 719, 975]} stars={[[693, 741, 850, '*'], [742, 766, 872, '**']]} />
    <R x={786} y={839} w={15} h={15} f={WT_GRAY} c="#666" />
    <T x={807} y={855} s={20} a="start">WT</T>
    <R x={786} y={864} w={15} h={14} f={KO_BLUE} c="#666" />
    <T x={807} y={878} s={20} a="start"><KO s={20} /></T>

    {/* h */}
    <T x={154} y={1183} s={23}>WT</T>
    <T x={284} y={1183} s={23}><KO s={23} /></T>
    <L x1={95} y1={1195} x2={215} y2={1195} />
    <L x1={224} y1={1195} x2={345} y2={1195} />
    <T x={0} y={1220} s={20} a="start" w={76}>CD3+28</T>
    {[[102, '0'], [132, '1'], [167, '2'], [200, '3'], [234, '0'], [264, '1'], [299, '2'], [333, '3']].map(([x, t]: any) => (
      <T key={x} x={x} y={1220} s={20}>{t}</T>
    ))}
    <T x={343} y={1220} s={20} a="start">days</T>
    <R x={88} y={1233} w={263} h={47} c="#333" sw={1.2} />
    <R x={88} y={1291} w={263} h={46} c="#333" sw={1.2} />
    <R x={88} y={1349} w={263} h={36} c="#333" sw={1.2} />
    <T x={76} y={1263} s={20} a="end">p-p53</T>
    <T x={76} y={1318} s={20} a="end">p53</T>
    <T x={76} y={1373} s={20} a="end">Actin</T>
    {[[1259, 1266, '53 kDa'], [1315, 1321, '53 kDa'], [1367, 1374, '42 kDa']].map(([ly, by, t]: any) => (
      <React.Fragment key={ly}>
        <L x1={351} y1={ly} x2={358} y2={ly} />
        <T x={359} y={by} s={16} a="start">{t}</T>
      </React.Fragment>
    ))}

    {/* i */}
    <T x={541} y={1142} s={22}>CD3+28</T>
    <T x={544} y={1163} s={15}>(day 3)</T>
    <T x={455} y={1282} s={22} rot={-90}>p53/Actin</T>
    <Stars x={555} y={1195} />
    <L x1={535} y1={1202} x2={575} y2={1202} c="#444" />
    <T x={540} y={1398} s={21} a="end" rot={-45}>WT</T>
    <T x={587} y={1392} s={21} a="end" rot={-45}><KO s={21} /></T>

    {/* j */}
    <T x={744} y={1134} s={22}>WT</T>
    <T x={907} y={1134} s={22}><KO s={22} /></T>
    <Frame x={672} y={1141} w={150} h={120} />
    <Frame x={830} y={1141} w={152} h={120} />
    <Frame x={672} y={1268} w={151} h={119} />
    <Frame x={830} y={1268} w={152} h={119} />
    <T x={693} y={1157} s={19} c="#1B55A5">G0</T>
    <T x={693} y={1174} s={19} c="#1B55A5">G1</T>
    <T x={715} y={1157} s={19} c="#3B3B9A">S</T>
    <T x={752} y={1157} s={19} c="#1B6AA5">G2</T>
    <T x={752} y={1174} s={19} c="#1B6AA5">M</T>
    <T x={692} y={1199} s={17} c="#333">82.8</T>{gateBar(680, 707, 1205)}
    <T x={720} y={1235} s={17} c="#4a2530">3.0</T>{gateBar(707, 724, 1242, '#6a2a3a')}
    <T x={747.5} y={1246} s={17} c="#23493a">9.8</T>{gateBar(725, 772, 1251, '#23493a')}
    <T x={856} y={1175} s={17} c="#333">84.2</T>{gateBar(840, 868, 1205)}
    <T x={875} y={1238} s={17} c="#4a2530">2.8</T>{gateBar(867, 884, 1242, '#6a2a3a')}
    <T x={912} y={1247} s={17} c="#23493a">8.7</T>{gateBar(884, 932, 1251, '#23493a')}
    <T x={698} y={1300} s={17} c="#333">73.0</T>{gateBar(682, 719, 1338)}
    <T x={726} y={1363} s={17} c="#4a2530">7.2</T>{gateBar(719, 733, 1369, '#6a2a3a')}
    <T x={763} y={1374} s={17} c="#23493a">17.8</T>{gateBar(733, 776, 1382, '#23493a')}
    <T x={856} y={1299} s={17} c="#333">34.6</T>{gateBar(841, 876, 1338)}
    <T x={883} y={1361} s={17} c="#4a2530">6.1</T>{gateBar(876, 891, 1369, '#6a2a3a')}
    <T x={927} y={1369} s={17} c="#23493a">52.5</T>{gateBar(891, 934, 1381, '#23493a')}
    <T x={1010} y={1209} s={22}>Unst</T>
    <T x={1009} y={1317} s={22}>CD3</T>
    <T x={1009} y={1345} s={22}>+28</T>
    <T x={661} y={1305} s={21} rot={-90}>Cell number</T>
    <Arrow x0={658} y0={1404} yTop={1375} xEnd={691} />
    <T x={694} y={1411} s={22} a="start">PI</T>
    <T x={1078} y={1253} s={23} rot={-90}>Cell phase (%)</T>
    <Stars x={1243} y={1157} />
    <T x={1243} y={1277} s={15} c="#fff">***</T>
    <R x={1274} y={1212} w={13} h={13} f="#fff" c="#333" />
    <R x={1274} y={1233} w={13} h={14} f="#A8A8A8" c="#333" />
    <R x={1274} y={1254} w={13} h={13} f="#111" c="#333" />
    <T x={1296} y={1226} s={22} a="start">G2/M</T>
    <T x={1296} y={1246} s={22} a="start">S</T>
    <T x={1296} y={1268} s={22} a="start">G0/G1</T>
    <T x={1155} y={1371} s={21} a="end" rot={-45}>WT</T>
    <T x={1186} y={1370} s={21} a="end" rot={-45}><KO s={21} /></T>
    <T x={1218} y={1371} s={21} a="end" rot={-45}>WT</T>
    <T x={1250} y={1370} s={21} a="end" rot={-45}><KO s={21} /></T>
    <L x1={1136} y1={1423} x2={1189} y2={1423} c="#555" w={1.6} />
    <L x1={1200} y1={1423} x2={1255} y2={1423} c="#555" w={1.6} />
    <T x={1160} y={1447} s={22}>Unst</T>
    <T x={1235} y={1447} s={22}>CD3+28</T>

    {/* k */}
    <T x={128} y={1487} s={22}>WT</T>
    <T x={280} y={1487} s={22}><KO s={22} /></T>
    <T x={365} y={1487} s={22}>days</T>
    {[[1498, 84, 1547, '1'], [1587, 81, 1635, '2'], [1676, 82, 1723, '3']].map(([y, h, by, t]: any) => (
      <React.Fragment key={t}>
        <Frame x={61} y={y} w={137} h={h} />
        <Frame x={206} y={y} w={137} h={h} />
        <T x={365} y={by} s={22}>{t}</T>
      </React.Fragment>
    ))}
    <T x={46} y={1712} s={18} rot={-90}>% Max</T>
    <Arrow x0={41} y0={1777} yTop={1747} xEnd={71} />
    <T x={74} y={1782} s={18} a="start">CFSE</T>

    {/* l */}
    <T x={555} y={1482} s={22}>CD3+28</T>
    <T x={557} y={1503} s={15}>(day 3)</T>
    <T x={461} y={1625} s={22} rot={-90}>Cell number (fold-change)</T>
    <Stars x={560} y={1528} />
    <L x1={538} y1={1542} x2={580} y2={1542} c="#444" />
    <T x={543} y={1752} s={22} a="end" rot={-45}>WT</T>
    <T x={595} y={1743} s={22} a="end" rot={-45}><KO s={22} /></T>

    {/* m */}
    <T x={745} y={1512} s={22}>WT</T>
    <T x={896} y={1512} s={22}><KO s={22} /></T>
    <Frame x={679} y={1521} w={137} h={83} />
    <Frame x={824} y={1521} w={136} h={83} />
    <Frame x={679} y={1609} w={137} h={84} />
    <Frame x={824} y={1609} w={136} h={84} />
    <T x={990} y={1570} s={22}>Unst</T>
    <T x={991} y={1647} s={22}>CD3</T>
    <T x={991} y={1676} s={22}>+28</T>
    <T x={760} y={1588} s={17} c="#1F4FA8">5.0</T>
    <T x={900} y={1588} s={17} c="#1F4FA8">3.6</T>
    <T x={753} y={1680} s={17} c="#1F4FA8">58.5</T>
    <T x={892} y={1680} s={17} c="#1F4FA8">85.0</T>
    {[[750, 816, 1597], [896, 960, 1597], [750, 816, 1685], [896, 960, 1685]].map(([x1, x2, y]) => (
      <React.Fragment key={`${x1}${y}`}>
        <L x1={x1} y1={y} x2={x2} y2={y} c="#aaa" w={2} />
        <L x1={x1} y1={y - 3} x2={x1} y2={y + 3} c="#444" w={1} />
      </React.Fragment>
    ))}
    <T x={663} y={1640} s={18} rot={-90}>% Max</T>
    <Arrow x0={660} y0={1712} yTop={1682} xEnd={690} />
    <T x={696} y={1718} s={20} a="start">Ki67-PE</T>
    <T x={1189} y={1492} s={22}>Ki67</T>
    <T x={1062} y={1620} s={22} rot={-90}>Ki67<Sup t="+" s={22} /> cells (%)</T>
    <R x={1120} y={1516} w={13} h={13} f={WT_GRAY} c="#666" />
    <T x={1137} y={1530} s={20} a="start">WT</T>
    <R x={1120} y={1539} w={13} h={14} f={KO_BLUE} c="#666" />
    <T x={1137} y={1553} s={20} a="start"><KO s={20} /></T>
    <Stars x={1228} y={1518} />
    <L x1={1215} y1={1526} x2={1246} y2={1526} c="#444" />
    <L x1={1122} y1={1738} x2={1185} y2={1738} c="#444" />
    <L x1={1196} y1={1738} x2={1260} y2={1738} c="#444" />
    <T x={1153} y={1762} s={22}>Unst</T>
    <T x={1228} y={1762} s={22}>CD3+28</T>
  </svg>
);

const App = () => (
  <div style={{ position: 'absolute', left: 0, top: 0, width: 1361, height: 1800, background: '#fff', overflow: 'hidden', fontFamily: FONT }}>
    <div style={{ position: 'absolute', left: 989, top: 7, width: 309, height: 309, background: '#F4F4F4' }} />
    <div style={{ position: 'absolute', left: 1033, top: 24, width: 261, height: 253, background: '#fff' }} />

    <Venn />
    <Volcano />

    <HBars x={299} y={388} w={147} h={137} names={ipaNames} values={ipaValues} colors={ipaColors} domain={[0, 10]} ticks={[0, 2, 4, 6, 8, 10]} pad={{ top: 4, bottom: 4 }} barSize={17} left={295} stroke="#888" />
    <HBars x={300} y={620} w={145} h={82} names={keggNames} values={keggValues} colors={['#050505', '#050505', '#050505']} domain={[0, 10]} ticks={[0, 2, 4, 6, 8, 10]} pad={{ top: 4, bottom: 3 }} barSize={17} left={295} stroke="#666" />
    <HBars x={629} y={463} w={160} h={188} names={zNames} values={zValues} colors={zValues.map((v) => (v > 0 ? '#3D58A7' : '#ED1C24'))} domain={[-5.93, 5.93]} ticks={[-5, 0, 5]} pad={{ top: 4.7, bottom: 3.3 }} barSize={12.5} left={120} stroke="#888" fs={20} margin={8} />

    <Gsea />

    <Heat x={1009} y={425} w={102} h={638} rows={heatUnst} cols={6} labels={heatGenes} />
    <Heat x={1128} y={425} w={203} h={638} rows={heatStim} cols={12} />
    <Heat x={1221} y={1074} w={102} h={11} rows={[heatLegend.join('')]} cols={8} />

    <DotBars x={106} y={841} w={105} h={209} means={apaf1Means} errs={apaf1Errs} colors={qpcrColors} cats={qpcrCats} dots={apaf1Dots} domain={[0, 10]} ticks={[0, 2.5, 5, 7.5, 10]} fmt={(v: number) => v.toFixed(1)} padL={4} padR={3} barW={15.5} />
    <DotBars x={296} y={841} w={103} h={209} means={baxMeans} errs={baxErrs} colors={qpcrColors} cats={qpcrCats} dots={baxDots} domain={[0, 3]} ticks={[0, 1, 2, 3]} fmt={(v: number) => v.toFixed(1)} padL={3} padR={2} barW={15.5} />
    <DotBars x={486} y={841} w={104} h={209} means={ccng1Means} errs={ccng1Errs} colors={qpcrColors} cats={qpcrCats} dots={ccng1Dots} domain={[0, 2]} ticks={[0, .5, 1, 1.5, 2]} fmt={(v: number) => v.toFixed(1)} padL={3} padR={3} barW={15.5} />
    <DotBars x={676} y={841} w={105} h={209} means={cdkn1aMeans} errs={cdkn1aErrs} colors={qpcrColors} cats={qpcrCats} dots={cdkn1aDots} domain={[0, 2]} ticks={[0, .5, 1, 1.5, 2]} fmt={(v: number) => v.toFixed(1)} padL={3} padR={5} barW={15.5} />

    <Blot x={88} y={1233} w={263} h={47} bands={bandsPhospho} pos={0.47} rx={12} ry={9} blur={2} />
    <Blot x={88} y={1291} w={263} h={46} bands={bandsP53} pos={0.52} rx={12} ry={10} blur={2.4} />
    <Blot x={88} y={1349} w={263} h={36} bands={bandsActin} pos={0.47} rx={13} ry={3.5} blur={1} />

    <DotBars x={507} y={1192} w={91} h={182} means={p53Means} errs={p53Errs} colors={[WT_GRAY, KO_BLUE]} dots={p53Dots} domain={[0, 0.695]} ticks={[0, .2, .4, .6]} fmt={(v: number) => v.toFixed(1)} padL={7} padR={8} barW={26.5} dotR={4} showTicks />

    <Hist x={672} y={1141} w={150} h={120} curve={cycleWtUnst} gates={gatesWtUnst} c="#2f5560" />
    <Hist x={830} y={1141} w={152} h={120} curve={cycleKoUnst} gates={gatesKoUnst} c="#2f5560" />
    <Hist x={672} y={1268} w={151} h={119} curve={cycleWtStim} gates={gatesWtStim} c="#2f5560" />
    <Hist x={830} y={1268} w={152} h={119} curve={cycleKoStim} gates={gatesKoStim} c="#2f5560" />
    <Phases />

    <Hist x={61} y={1498} w={137} h={84} curve={cfseWt1} />
    <Hist x={206} y={1498} w={137} h={84} curve={cfseKo1} />
    <Hist x={61} y={1587} w={137} h={81} curve={cfseWt2} />
    <Hist x={206} y={1587} w={137} h={81} curve={cfseKo2} />
    <Hist x={61} y={1676} w={137} h={82} curve={cfseWt3} />
    <Hist x={206} y={1676} w={137} h={82} curve={cfseKo3} />

    <DotBars x={505} y={1522} w={103} h={210} means={foldMeans} errs={foldErrs} colors={[WT_GRAY, KO_BLUE]} dots={foldDots} domain={[0, 4]} ticks={[0, 1, 2, 3, 4]} fmt={(v: number) => String(v)} padL={9} padR={7} barW={30} dotR={4.5} showTicks />

    <Hist x={679} y={1521} w={137} h={83} curve={ki67WtUnst} />
    <Hist x={824} y={1521} w={136} h={83} curve={ki67KoUnst} />
    <Hist x={679} y={1609} w={137} h={84} curve={ki67WtStim} />
    <Hist x={824} y={1609} w={136} h={84} curve={ki67KoStim} />

    <DotBars x={1108.5} y={1514} w={163.5} h={212} means={kiMeans} errs={kiErrs} colors={qpcrColors} cats={qpcrCats} dots={kiDots} domain={[0, 100]} ticks={[0, 25, 50, 75, 100]} fmt={(v: number) => String(v)} padL={7.5} padR={6} barW={26} dotR={4.5} />

    <Overlay />
  </div>
);

export default App;
